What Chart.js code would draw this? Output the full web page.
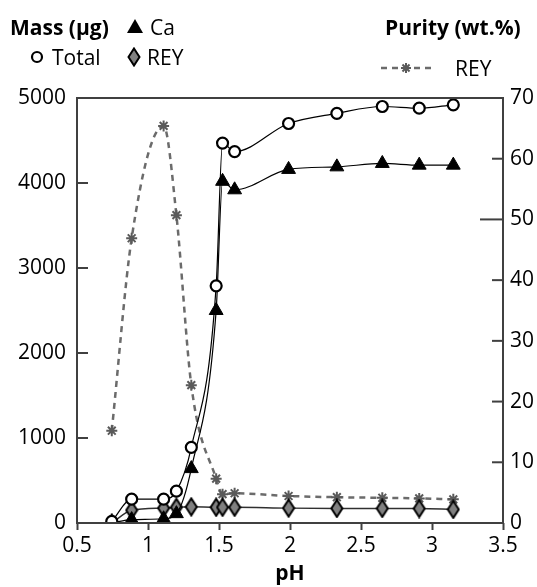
<!DOCTYPE html>
<html>
<head>
<meta charset="utf-8">
<script src="https://cdn.jsdelivr.net/npm/chart.js@4"></script>
<style>
  body { margin: 0; background: #fff; }
  #wrap { position: relative; width: 537px; height: 587px; }
</style>
</head>
<body>
<div id="wrap"><canvas id="grafico"></canvas></div>
<script>
// pH de cada muestra
const ph = [0.745, 0.885, 1.11, 1.2, 1.305, 1.48, 1.525, 1.61, 1.99, 2.33, 2.65, 2.91, 3.15];
// masas en µg (eje izquierdo)
const masaTotal = [20, 280, 280, 375, 890, 2790, 4470, 4370, 4700, 4820, 4900, 4880, 4920];
const masaCa = [0, 40, 50, 110, 640, 2500, 4020, 3920, 4160, 4190, 4230, 4210, 4210];
const masaREY = [0, 150, 175, 185, 190, 185, 185, 185, 175, 172, 172, 170, 160];
// pureza REY en wt.% (eje derecho)
const purezaREY = [15.2, 46.9, 65.4, 50.7, 22.7, 7.3, 4.75, 4.9, 4.45, 4.25, 4.15, 4.05, 3.9];

const ticksPH = [0.5, 1, 1.5, 2, 2.5, 3, 3.5];
const ticksMasa = [0, 1000, 2000, 3000, 4000, 5000];
const ticksPureza = [0, 10, 20, 30, 40, 50, 60, 70];

const FUENTE = "'Open Sans', sans-serif";
const EJE = '#404040';

function puntos(ys) {
  return ph.map((x, i) => ({ x: x, y: ys[i] }));
}

// rombo alargado gris para la masa de REY
function crearRombo() {
  const c = document.createElement('canvas');
  c.width = 14; c.height = 20;
  const g = c.getContext('2d');
  g.beginPath();
  g.moveTo(7, 1.5);
  g.lineTo(12.5, 10);
  g.lineTo(7, 18.5);
  g.lineTo(1.5, 10);
  g.closePath();
  g.fillStyle = '#808080';
  g.fill();
  g.lineWidth = 2;
  g.strokeStyle = '#000';
  g.stroke();
  return c;
}
const rombo = crearRombo();

// marco del gráfico y marcas hacia dentro en los ejes Y
const marcoPlugin = {
  id: 'marco',
  afterDraw(chart) {
    const ctx = chart.ctx;
    const a = chart.chartArea;
    ctx.save();
    ctx.strokeStyle = EJE;
    ctx.lineWidth = 2;
    ctx.strokeRect(a.left, a.top, a.right - a.left, a.bottom - a.top);

    const yl = chart.scales.y;
    yl.ticks.forEach(t => {
      const py = yl.getPixelForValue(t.value);
      ctx.beginPath();
      ctx.moveTo(a.left, py);
      ctx.lineTo(a.left + 11, py);
      ctx.stroke();
    });
    const yr = chart.scales.y2;
    yr.ticks.forEach(t => {
      const py = yr.getPixelForValue(t.value);
      const largo = t.value === 50 ? 23 : 11;
      ctx.beginPath();
      ctx.moveTo(a.right, py);
      ctx.lineTo(a.right - largo, py);
      ctx.stroke();
    });
    ctx.restore();
  }
};

// leyenda en dos bloques: masa (izquierda) y pureza (derecha)
const leyendaPlugin = {
  id: 'leyenda',
  afterDraw(chart) {
    const ctx = chart.ctx;
    ctx.save();
    ctx.fillStyle = '#000';
    ctx.textBaseline = 'alphabetic';
    ctx.textAlign = 'left';

    ctx.font = 'bold 21px ' + FUENTE;
    ctx.fillText('Mass (µg)', 10, 35);
    ctx.fillText('Purity (wt.%)', 385, 35);

    ctx.font = '21px ' + FUENTE;
    // triángulo Ca
    ctx.beginPath();
    ctx.moveTo(135, 19);
    ctx.lineTo(143, 33);
    ctx.lineTo(127, 33);
    ctx.closePath();
    ctx.fill();
    ctx.fillText('Ca', 150, 35);

    // círculo Total
    ctx.beginPath();
    ctx.arc(37, 57, 5, 0, Math.PI * 2);
    ctx.lineWidth = 2.2;
    ctx.strokeStyle = '#000';
    ctx.stroke();
    ctx.fillText('Total', 52, 65);

    // rombo REY
    ctx.drawImage(rombo, 134 - rombo.width / 2, 57 - rombo.height / 2);
    ctx.fillText('REY', 147, 65);

    // línea discontinua con asterisco
    ctx.strokeStyle = '#6b6b6b';
    ctx.lineWidth = 2.5;
    ctx.setLineDash([6, 5]);
    ctx.beginPath();
    ctx.moveTo(381, 68);
    ctx.lineTo(432, 68);
    ctx.stroke();
    ctx.setLineDash([]);
    ctx.strokeStyle = '#5a5a5a';
    ctx.lineWidth = 2;
    const r = 5;
    for (let k = 0; k < 4; k++) {
      const ang = k * Math.PI / 4;
      ctx.beginPath();
      ctx.moveTo(406 - Math.cos(ang) * r, 68 - Math.sin(ang) * r);
      ctx.lineTo(406 + Math.cos(ang) * r, 68 + Math.sin(ang) * r);
      ctx.stroke();
    }
    ctx.fillText('REY', 455, 76);
    ctx.restore();
  }
};

const ctx = document.getElementById('grafico').getContext('2d');
new Chart(ctx, {
  type: 'line',
  data: {
    datasets: [
      {
        label: 'Total',
        data: puntos(masaTotal),
        yAxisID: 'y',
        borderColor: '#000',
        borderWidth: 1.2,
        cubicInterpolationMode: 'monotone',
        pointStyle: 'circle',
        pointRadius: 5.5,
        pointBackgroundColor: '#fff',
        pointBorderColor: '#000',
        pointBorderWidth: 2.2
      },
      {
        label: 'Ca',
        data: puntos(masaCa),
        yAxisID: 'y',
        borderColor: '#000',
        borderWidth: 1.2,
        cubicInterpolationMode: 'monotone',
        pointStyle: 'triangle',
        pointRadius: 8,
        pointBackgroundColor: '#000',
        pointBorderColor: '#000',
        pointBorderWidth: 1
      },
      {
        label: 'REY',
        data: puntos(masaREY),
        yAxisID: 'y',
        borderColor: '#303030',
        borderWidth: 1.5,
        cubicInterpolationMode: 'monotone',
        pointStyle: rombo
      },
      {
        label: 'REY pureza',
        data: puntos(purezaREY),
        yAxisID: 'y2',
        borderColor: '#6b6b6b',
        borderWidth: 2.5,
        borderDash: [6, 5],
        cubicInterpolationMode: 'monotone',
        pointStyle: 'star',
        pointRadius: 5.5,
        pointBorderColor: '#5a5a5a',
        pointBorderWidth: 2
      }
    ]
  },
  options: {
    responsive: true,
    maintainAspectRatio: false,
    animation: false,
    layout: { padding: { top: 98, left: 0, right: 0, bottom: 0 } },
    plugins: {
      legend: { display: false },
      tooltip: { enabled: false }
    },
    scales: {
      x: {
        type: 'linear',
        min: 0.5,
        max: 3.5,
        afterFit(s) { s.height = 64; },
        afterBuildTicks(s) { s.ticks = ticksPH.map(v => ({ value: v })); },
        border: { display: false },
        grid: {
          drawOnChartArea: false,
          drawTicks: true,
          tickLength: 7,
          tickColor: EJE,
          tickWidth: 2
        },
        ticks: {
          color: '#000',
          padding: 3,
          maxRotation: 0,
          font: { family: FUENTE, size: 21 },
          callback: v => String(v)
        },
        title: {
          display: true,
          text: 'pH',
          color: '#000',
          padding: 0,
          font: { family: FUENTE, size: 21, weight: 'bold' }
        }
      },
      y: {
        position: 'left',
        min: 0,
        max: 5000,
        afterFit(s) { s.width = 77; },
        afterBuildTicks(s) { s.ticks = ticksMasa.map(v => ({ value: v })); },
        border: { display: false },
        grid: { display: false, drawTicks: false },
        ticks: {
          color: '#000',
          padding: 11,
          font: { family: FUENTE, size: 21 },
          callback: v => String(v)
        }
      },
      y2: {
        position: 'right',
        min: 0,
        max: 70,
        afterFit(s) { s.width = 34; },
        afterBuildTicks(s) { s.ticks = ticksPureza.map(v => ({ value: v })); },
        border: { display: false },
        grid: { display: false, drawTicks: false },
        ticks: {
          color: '#000',
          padding: 7,
          font: { family: FUENTE, size: 21 },
          callback: v => String(v)
        }
      }
    }
  },
  plugins: [marcoPlugin, leyendaPlugin]
});
</script>
</body>
</html>
